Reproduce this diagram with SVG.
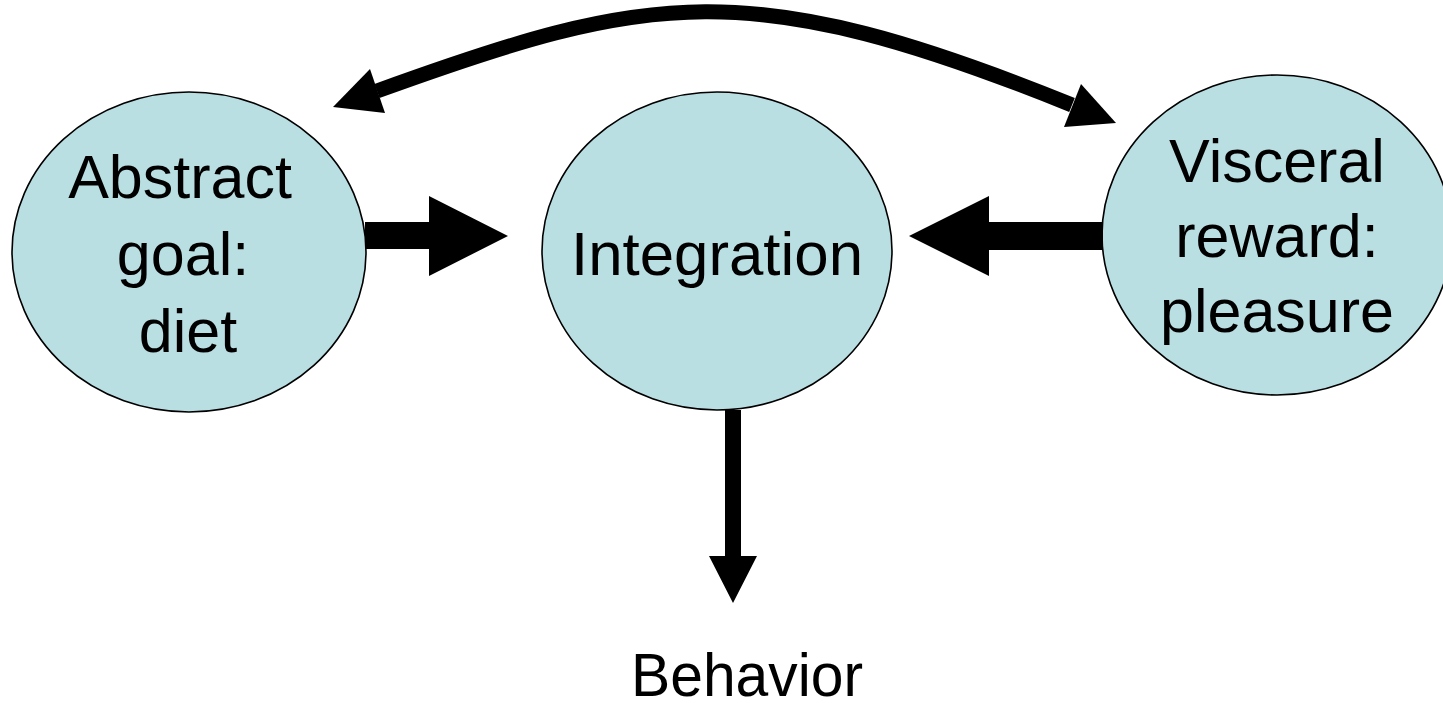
<svg xmlns="http://www.w3.org/2000/svg" width="1443" height="703" viewBox="0 0 1443 703">
<style>
.node{fill:#B9DFE3;stroke:#000;stroke-width:1.6}
.lbl{font-family:"Liberation Sans",Arial,sans-serif;font-size:61px;fill:#000;text-anchor:middle}
.solid{fill:#000}
</style>
<rect width="1443" height="703" fill="#fff"/>
<g id="node-abstract">
<ellipse class="node" cx="189" cy="252" rx="177" ry="160"/>
<text class="lbl" x="180" y="198">Abstract</text>
<text class="lbl" x="183" y="275">goal:</text>
<text class="lbl" x="188" y="352">diet</text>
</g>
<g id="node-integration">
<ellipse class="node" cx="717" cy="251" rx="175" ry="159"/>
<text class="lbl" x="717" y="275" textLength="292" lengthAdjust="spacingAndGlyphs">Integration</text>
</g>
<g id="node-visceral">
<ellipse class="node" cx="1277" cy="235" rx="175" ry="160"/>
<text class="lbl" x="1277" y="182">Visceral</text>
<text class="lbl" x="1277" y="257">reward:</text>
<text class="lbl" x="1277" y="332">pleasure</text>
</g>
<g id="node-behavior">
<text class="lbl" x="747" y="696" textLength="232" lengthAdjust="spacingAndGlyphs">Behavior</text>
</g>
<g id="connectors">
<path d="M377,91 C650,-8 748,-26 1072,105" fill="none" stroke="#000" stroke-width="15"/>
<polygon class="solid" points="333,107 370,69 385,113"/>
<polygon class="solid" points="1116,123 1081,84 1064,127"/>
<polygon class="solid" points="365,222 429,222 429,196 508,236 429,276 429,249 365,249"/>
<polygon class="solid" points="1103,222 989,222 989,196 909,236 989,276 989,250 1103,250"/>
<polygon class="solid" points="725,410 741,410 741,556 757,556 733,603 709,556 725,556"/>
</g>
</svg>
